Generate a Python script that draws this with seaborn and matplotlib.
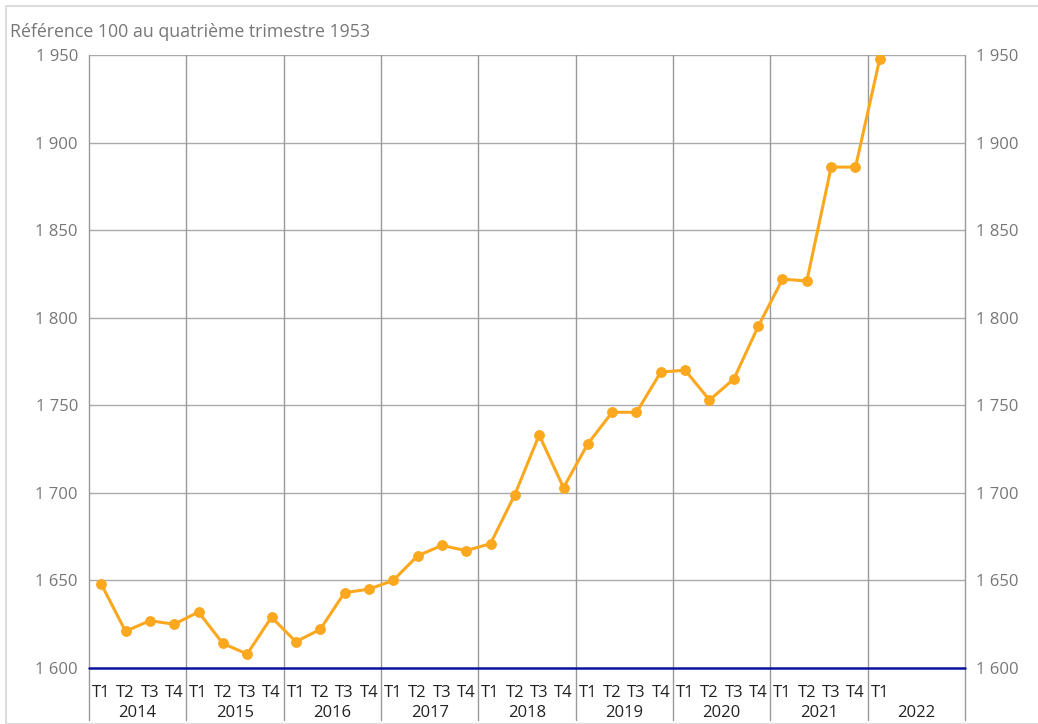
import matplotlib
matplotlib.use("Agg")
import matplotlib.pyplot as plt
import matplotlib.ticker as mticker
import matplotlib.transforms as mtransforms
from matplotlib.patches import Rectangle
import pandas as pd
import seaborn as sns

years = [2014, 2015, 2016, 2017, 2018, 2019, 2020, 2021, 2022]
quarters = ["T1", "T2", "T3", "T4"]
values = [
    1648, 1621, 1627, 1625,
    1632, 1614, 1608, 1629,
    1615, 1622, 1643, 1645,
    1650, 1664, 1670, 1667,
    1671, 1699, 1733, 1703,
    1728, 1746, 1746, 1769,
    1770, 1753, 1765, 1795,
    1822, 1821, 1886, 1886,
    1948,
]
y_ticks = [1600, 1650, 1700, 1750, 1800, 1850, 1900, 1950]
title = "Référence 100 au quatrième trimestre 1953"

df = pd.DataFrame({"slot": range(len(values)), "icc": values})
df["label"] = [quarters[i % 4] for i in range(len(values))]

sns.set_style("white")
plt.rcParams["font.family"] = ["Open Sans", "DejaVu Sans"]

fig = plt.figure(figsize=(10.38, 7.24), dpi=100)
ax = fig.add_axes([89 / 1038, 1 - 668 / 724, (965 - 89) / 1038, (668 - 55) / 724])

orange = "#FBA81F"
sns.lineplot(data=df, x="slot", y="icc", ax=ax, color=orange, lw=2.2,
             marker="o", markersize=7, markeredgecolor=orange, zorder=5)

n_slots = 4 * len(years)
ax.set_xlim(-0.5, n_slots - 0.5)
ax.set_ylim(y_ticks[0], y_ticks[-1])
ax.set_yticks(y_ticks)
ax.yaxis.set_major_formatter(mticker.FuncFormatter(lambda v, p: f"{int(v):,}".replace(",", " ")))
ax.tick_params(axis="y", length=0, labelsize=12, labelcolor="#777777",
               left=False, right=False, labelleft=True, labelright=True, pad=8)
ax.set_xticks(df["slot"])
ax.set_xticklabels(df["label"])
ax.tick_params(axis="x", length=0, labelsize=12, labelcolor="#222222", pad=12)
ax.set_xlabel("")
ax.set_ylabel("")

for s in ax.spines.values():
    s.set_visible(False)

# horizontal grid
for v in y_ticks[1:]:
    ax.axhline(v, color="#aaaaaa", lw=1, zorder=1)

# year separators, extended below the axis
trans = mtransforms.blended_transform_factory(ax.transData, ax.transAxes)
for i in range(len(years) + 1):
    xb = 4 * i - 0.5
    ax.plot([xb, xb], [1, -0.085], transform=trans, color="#999999", lw=1,
            clip_on=False, zorder=1)
for i, yr in enumerate(years):
    ax.text(4 * i + 1.5, -0.073, str(yr), transform=trans, ha="center", va="center",
            fontsize=12, color="#222222")

# baseline in blue on top of the separators
ax.axhline(y_ticks[0], color="#0a12a0", lw=1.8, zorder=6, clip_on=False)

fig.text(10 / 1038, 1 - 32 / 724, title, ha="left", va="center", fontsize=12.8, color="#777777")
fig.patches.append(Rectangle((6 / 1038, 0), 1, 1 - 6 / 724, transform=fig.transFigure,
                             fill=False, edgecolor="#dddddd", lw=1.5))

fig.savefig("out.png", dpi=100)
